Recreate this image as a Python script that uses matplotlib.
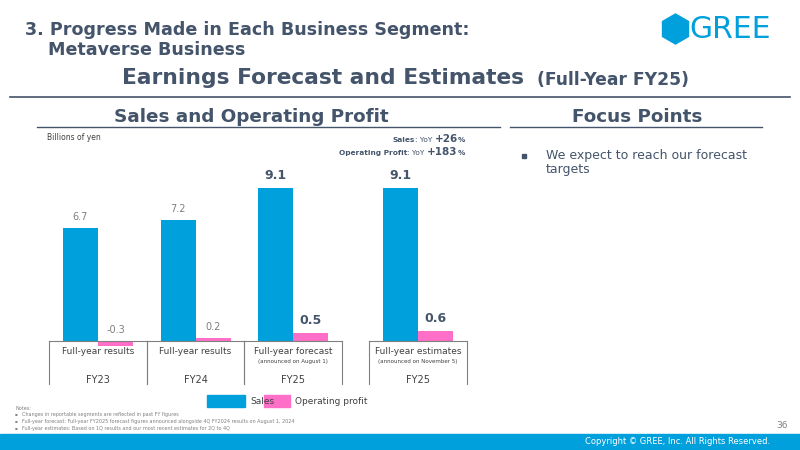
import matplotlib.pyplot as plt
from matplotlib.patches import RegularPolygon, Rectangle
import numpy as np

# data
categories = ["Full-year results", "Full-year results", "Full-year forecast", "Full-year estimates"]
subnotes = ["", "", "(announced on August 1)", "(announced on November 5)"]
years = ["FY23", "FY24", "FY25", "FY25"]
sales = [6.7, 7.2, 9.1, 9.1]
op_profit = [-0.3, 0.2, 0.5, 0.6]
highlight = [False, False, True, True]

BLUE = "#00a0dc"
PINK = "#ff6ec7"
DARK = "#44546a"
GRAY = "#7f7f7f"

W, H = 800, 450
fig = plt.figure(figsize=(8, 4.5), dpi=100)


def px(x, y):
    return x / W, 1 - y / H


def ftext(x, y, s, **kw):
    return fig.text(*px(x, y), s, **kw)


def hline(x0, x1, y, color=DARK, lw=1.0):
    fig.add_artist(plt.Line2D([x0 / W, x1 / W], [1 - y / H] * 2, color=color, lw=lw))


def rich_right(x, y, pieces):
    # pieces drawn right to left, each (text, fontsize, weight)
    renderer = fig.canvas.get_renderer()
    cur = x
    for s, fs, wt in reversed(pieces):
        t = ftext(cur, y, s, fontsize=fs, fontweight=wt, color=DARK, va="baseline", ha="right")
        cur -= t.get_window_extent(renderer).width


# header
ftext(25, 30, "3. Progress Made in Each Business Segment:", fontsize=12.6, fontweight="bold",
      color=DARK, va="center")
ftext(48, 50, "Metaverse Business", fontsize=12.6, fontweight="bold", color=DARK, va="center")

# logo
fig.add_artist(RegularPolygon((6.755, 4.5 - 0.29), 6, radius=0.15, orientation=0,
                              transform=fig.dpi_scale_trans, color=BLUE))
ftext(689, 30, "GREE", fontsize=21.5, color=BLUE, va="center", ha="left")

# title
ftext(122, 78, "Earnings Forecast and Estimates", fontsize=15.7, fontweight="bold",
      color=DARK, va="center", ha="left")
ftext(537, 80, "(Full-Year FY25)", fontsize=12.3, fontweight="bold", color=DARK,
      va="center", ha="left")
hline(10, 790, 97, lw=1.2)

# section headings
ftext(251, 117, "Sales and Operating Profit", fontsize=13.2, fontweight="bold",
      color=DARK, va="center", ha="center")
hline(37, 500, 127, lw=1.0)
ftext(637, 117, "Focus Points", fontsize=13.2, fontweight="bold", color=DARK,
      va="center", ha="center")
hline(510, 762, 127, lw=1.0)

ftext(47, 137, "Billions of yen", fontsize=5.5, color="#404040", va="center")
rich_right(465, 142, [("Sales", 5.3, "bold"), (": YoY ", 5.3, "normal"),
                      ("+26", 7.5, "bold"), ("%", 5.3, "bold")])
rich_right(465, 155, [("Operating Profit", 5.3, "bold"), (": YoY ", 5.3, "normal"),
                      ("+183", 7.5, "bold"), ("%", 5.3, "bold")])

# focus points
fig.add_artist(Rectangle(px(522, 158), 4 / W, 4 / H, transform=fig.transFigure, color=DARK))
ftext(546, 155, "We expect to reach our forecast", fontsize=9, color=DARK, va="center")
ftext(546, 170, "targets", fontsize=9, color=DARK, va="center")

# bar chart axes
ax_l, ax_r, ax_t, ax_b = 40, 480, 160, 384
ax = fig.add_axes([ax_l / W, 1 - ax_b / H, (ax_r - ax_l) / W, (ax_b - ax_t) / H])
unit = 97.5
scale = (341 - 188) / 9.1
centers = np.array([0, 1, 2, 3.28])
bw = 35 / unit
ax.bar(centers - bw / 2, sales, bw, color=BLUE)
ax.bar(centers + bw / 2, op_profit, bw, color=PINK)
ax.set_xlim((ax_l - 98) / unit, (ax_r - 98) / unit)
ax.set_ylim(-(ax_b - 341) / scale, (341 - ax_t) / scale)
ax.axis("off")

for c, s, p, hl in zip(centers, sales, op_profit, highlight):
    kw = dict(fontsize=9, fontweight="bold", color=DARK) if hl else dict(fontsize=7, color=GRAY)
    ax.text(c - bw / 2, s + 0.35, f"{s:.1f}", ha="center", va="bottom", **kw)
    ax.text(c + bw / 2, max(p, 0) + 0.35, f"{p:.1f}", ha="center", va="bottom", **kw)

# category boxes
bottom = ax.get_ylim()[0]
for c, cat, sub, yr in zip(centers, categories, subnotes, years):
    ax.plot([c - 0.5, c + 0.5], [0, 0], color="#808080", lw=0.8, clip_on=False)
    ax.plot([c - 0.5, c - 0.5], [0, bottom], color="#808080", lw=0.8, clip_on=False)
    ax.plot([c + 0.5, c + 0.5], [0, bottom], color="#808080", lw=0.8, clip_on=False)
    ax.text(c, -11 / scale, cat, ha="center", va="center", fontsize=6.5, color="#404040")
    if sub:
        ax.text(c, -20 / scale, sub, ha="center", va="center", fontsize=4, color="#404040")
    ax.text(c, -39 / scale, yr, ha="center", va="center", fontsize=7, color="#404040")

# legend
fig.add_artist(Rectangle(px(207, 407), 38 / W, 12 / H, transform=fig.transFigure, color=BLUE))
ftext(250, 401, "Sales", fontsize=6.5, color="#404040", va="center")
fig.add_artist(Rectangle(px(264, 407), 26 / W, 12 / H, transform=fig.transFigure, color=PINK))
ftext(295, 401, "Operating profit", fontsize=6.5, color="#404040", va="center")

# notes
notes = ["Changes in reportable segments are reflected in past FY figures",
         "Full-year forecast: Full-year FY2025 forecast figures announced alongside 4Q FY2024 results on August 1, 2024",
         "Full-year estimates: Based on 1Q results and our most recent estimates for 2Q to 4Q"]
ftext(15, 408, "Notes:", fontsize=3.5, color=GRAY, va="center")
for i, n in enumerate(notes):
    ftext(15, 414.5 + i * 7, "\u25aa", fontsize=3, color=GRAY, va="center")
    ftext(22, 414.5 + i * 7, n, fontsize=3.5, color=GRAY, va="center")
ftext(782, 425, "36", fontsize=6.5, color=GRAY, va="center", ha="center")

# footer band
fig.add_artist(Rectangle((0, 0), 1, 16 / H, transform=fig.transFigure, color=BLUE))
ftext(770, 442, "Copyright \u00a9 GREE, Inc. All Rights Reserved.", fontsize=6, color="white",
      va="center", ha="right")

fig.savefig("out.png", dpi=100)
